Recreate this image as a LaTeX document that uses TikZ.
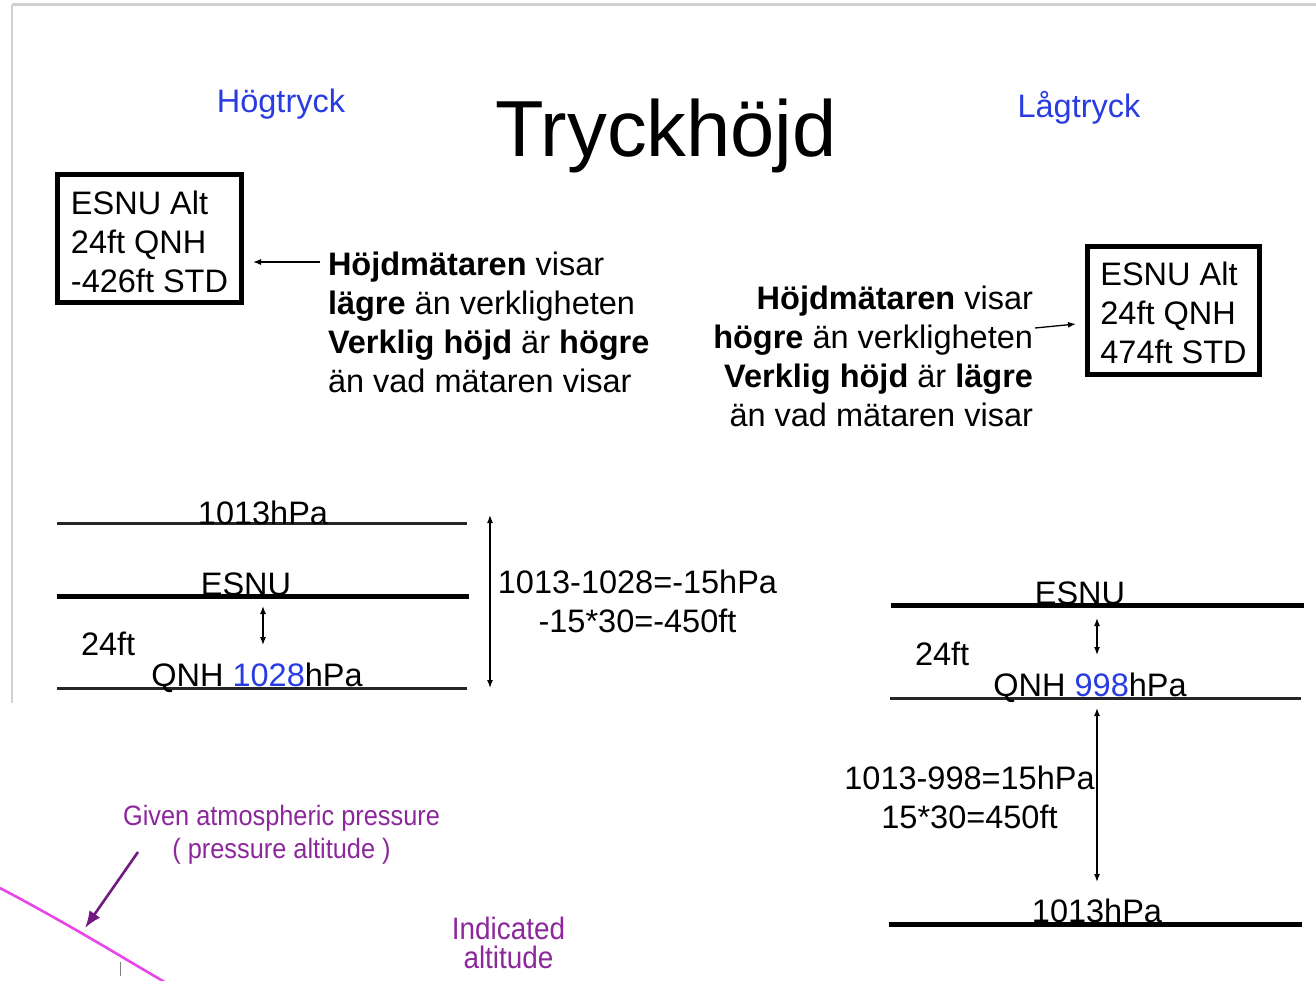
\documentclass[tikz,border=0pt]{standalone}
\usepackage{fontspec}
\setmainfont{Liberation Sans}
\usetikzlibrary{arrows.meta,calc}

\definecolor{hpblue}{RGB}{40,60,225}
\definecolor{framegray}{RGB}{208,208,208}
\definecolor{curvepink}{RGB}{232,70,232}
\definecolor{pointerpurple}{RGB}{115,25,130}
\definecolor{notepurple}{RGB}{140,40,155}

\newcommand{\txtsize}{\fontsize{32.5}{39}\selectfont}
\newcommand{\titlesize}{\fontsize{79.5}{90}\selectfont}

\tikzset{
  txt/.style={inner sep=0pt, outer sep=0pt, font=\txtsize},
  altbox/.style={draw, line width=5pt, inner sep=0pt, outer sep=0pt,
    minimum height=128pt, font=\txtsize},
  thinlevel/.style={line width=3pt, draw=black!85},
  thicklevel/.style={line width=5pt, draw=black},
  gap/.style={{Latex[length=8pt,width=6pt]}-{Latex[length=8pt,width=6pt]}, line width=1.3pt},
  pointto/.style={-{Latex[length=8pt,width=6pt]}, line width=1.3pt},
  note/.style={inner sep=0pt, outer sep=0pt, text=notepurple},
}

\begin{document}
\begin{tikzpicture}[x=1pt, y=-1pt]
  \clip (0,0) rectangle (1316,980);
  \fill[white] (0,0) rectangle (1316,980);

  % slide frame
  \draw[framegray, line width=3pt] (12,4.5) -- (1316,4.5);
  \draw[framegray, line width=2pt] (12,4.5) -- (12,703);

  % headings
  \node[txt, font=\titlesize, anchor=base] (title) at (666,156) {Tryckhöjd};
  \node[txt, text=hpblue, anchor=base] (high) at (281,112) {Högtryck};
  \node[txt, text=hpblue, anchor=base] (low) at (1079,117) {Lågtryck};

  % altimeter readings
  \node[altbox, minimum width=184pt, text height=39.5pt, text depth=88.5pt]
    (boxL) at (149.5,238.5)
    {\begin{tabular}[t]{@{}l@{}}ESNU Alt\\24ft QNH\\-426ft STD\end{tabular}};
  \node[altbox, minimum width=172pt, text height=38.5pt, text depth=89.5pt]
    (boxR) at (1173.5,310.5)
    {\begin{tabular}[t]{@{}l@{}}ESNU Alt\\24ft QNH\\474ft STD\end{tabular}};

  % explanations
  \node[txt, anchor=base west] (txtL) at (328,275)
    {\begin{tabular}[t]{@{}l@{}}\textbf{Höjdmätaren} visar\\
      \textbf{lägre} än verkligheten\\
      \textbf{Verklig höjd} är \textbf{högre}\\
      än vad mätaren visar\end{tabular}};
  \node[txt, anchor=base east] (txtR) at (1033,309)
    {\begin{tabular}[t]{@{}r@{}}\textbf{Höjdmätaren} visar\\
      \textbf{högre} än verkligheten\\
      \textbf{Verklig höjd} är \textbf{lägre}\\
      än vad mätaren visar\end{tabular}};

  \draw[pointto] ($(txtL.base west)+(-8,-13)$) -- ($(boxL.east)+(11.5,23.5)$);
  \draw[pointto] ($(txtR.base east)+(2,19)$) -- ($(boxR.west)+(-11.5,13.5)$);

  % high pressure levels
  \coordinate (hStdA) at (57,523);  \coordinate (hStdB) at (467,523);
  \coordinate (hAdA)  at (57,596);  \coordinate (hAdB)  at (469,596);
  \coordinate (hQnhA) at (57,688);  \coordinate (hQnhB) at (467,688);
  \draw[thinlevel]  (hStdA) -- (hStdB);
  \draw[thicklevel] (hAdA) -- (hAdB);
  \draw[thinlevel]  (hQnhA) -- (hQnhB);

  \coordinate (hGapTop) at (263,606);  \coordinate (hGapBot) at (263,645);
  \coordinate (hSpanTop) at (490,515); \coordinate (hSpanBot) at (490,688);
  \draw[gap] (hGapTop) -- (hGapBot);
  \draw[gap] (hSpanTop) -- (hSpanBot);

  \node[txt, anchor=base] (hStdLbl) at (263,524) {1013hPa};
  \node[txt, anchor=base] (hAdLbl) at (246,595) {ESNU};
  \node[txt, anchor=base west] (hElev) at (81,655) {24ft};
  \node[txt, anchor=base] (hQnhLbl) at (257,686) {QNH \textcolor{hpblue}{1028}hPa};
  \node[txt, anchor=base] (hCalc) at (637.5,593)
    {\begin{tabular}[t]{@{}c@{}}1013-1028=-15hPa\\-15*30=-450ft\end{tabular}};

  % low pressure levels
  \coordinate (lAdA)  at (891,605);  \coordinate (lAdB)  at (1304,605);
  \coordinate (lQnhA) at (890,698);  \coordinate (lQnhB) at (1301,698);
  \coordinate (lStdA) at (889,924);  \coordinate (lStdB) at (1302,924);
  \draw[thicklevel] (lAdA) -- (lAdB);
  \draw[thinlevel]  (lQnhA) -- (lQnhB);
  \draw[thicklevel] (lStdA) -- (lStdB);

  \coordinate (lGapTop) at (1097,618);  \coordinate (lGapBot) at (1097,655);
  \coordinate (lSpanTop) at (1097,708); \coordinate (lSpanBot) at (1097,882);
  \draw[gap] (lGapTop) -- (lGapBot);
  \draw[gap] (lSpanTop) -- (lSpanBot);

  \node[txt, anchor=base] (lAdLbl) at (1080,604) {ESNU};
  \node[txt, anchor=base west] (lElev) at (915,665) {24ft};
  \node[txt, anchor=base] (lQnhLbl) at (1090,696) {QNH \textcolor{hpblue}{998}hPa};
  \node[txt, anchor=base] (lCalc) at (969.5,789)
    {\begin{tabular}[t]{@{}c@{}}1013-998=15hPa\\15*30=450ft\end{tabular}};
  \node[txt, anchor=base] (lStdLbl) at (1097,922) {1013hPa};

  % pressure altitude sketch
  \draw[curvepink, line width=2.6pt] (0,888) .. controls (70,925) and (120,956) .. (168,984);
  \draw[gray, line width=1pt] (120,962) -- (120,976);
  \coordinate (pTail) at (138,852);
  \coordinate (pTip) at (85,928);
  \draw[pointerpurple, line width=2.6pt, -{Latex[length=17pt,width=13pt]}] (pTail) -- (pTip);

  \node[note, anchor=base, font=\fontsize{28}{33}\selectfont] (given) at (281.5,825)
    {\scalebox{0.905}[1]{\begin{tabular}[t]{@{}c@{}}Given atmospheric pressure\\( pressure altitude )\end{tabular}}};
  \node[note, anchor=south, align=center, font=\fontsize{31}{29}\selectfont] (indicated) at (508.5,969)
    {\scalebox{0.9}[1]{Indicated}\\\scalebox{0.9}[1]{altitude}};
\end{tikzpicture}
\end{document}
